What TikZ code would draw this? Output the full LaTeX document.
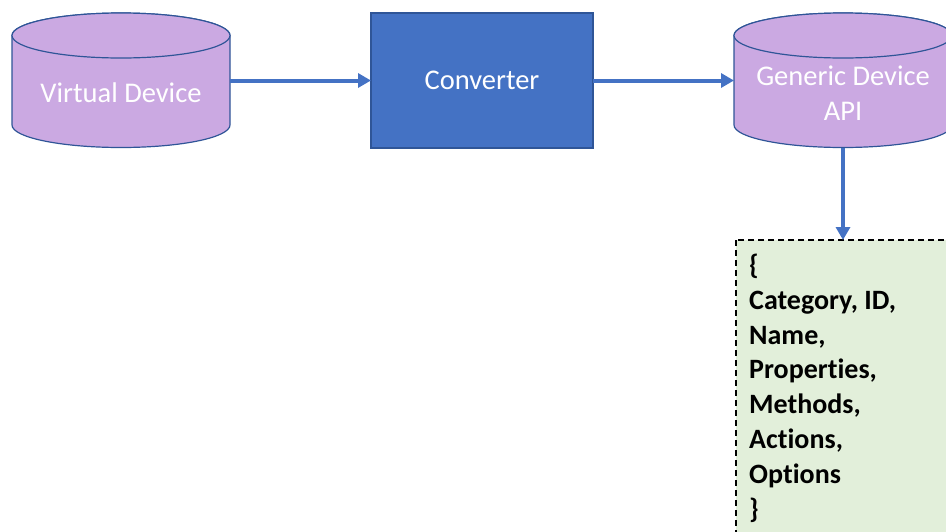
\documentclass[tikz,border=0pt]{standalone}
\usepackage{fontspec}
\setmainfont{Carlito}[Ligatures={NoCommon}]
\usetikzlibrary{arrows.meta}
\definecolor{cylfill}{RGB}{203,169,226}
\definecolor{edgeblue}{RGB}{47,85,151}
\definecolor{flowblue}{RGB}{68,114,196}
\definecolor{notegreen}{RGB}{226,239,218}
\tikzset{
  cylpart/.style={fill=cylfill, draw=edgeblue, line width=1.2pt},
  area/.style={inner sep=0pt, outer sep=0pt},
  lbl/.style={text=white, font=\fontsize{28.5}{35}\selectfont, align=center, inner sep=0pt},
  procbox/.style={draw=edgeblue, line width=1.2pt, fill=flowblue, text=white,
    font=\fontsize{28.5}{35}\selectfont, inner sep=0pt, outer sep=0pt},
  flow/.style={draw=flowblue, line width=4pt, -{Triangle[length=13pt,width=14pt]}},
  notebox/.style={draw=black, fill=notegreen, line width=1.3pt, dash pattern=on 6pt off 4pt},
  notetext/.style={font=\bfseries\fontsize{28}{34.8}\selectfont, align=left, inner sep=0pt}
}
% draws a vertical cylinder: left x, right x, top-ellipse centre y, bottom-ellipse centre y, ellipse y-radius
\newcommand{\drumshape}[5]{%
  \pgfmathsetmacro{\rxx}{(#2-#1)/2}%
  \pgfmathsetmacro{\cxx}{(#1+#2)/2}%
  \path[cylpart] (#1,#3) -- (#1,#4)
    arc[start angle=180, end angle=360, x radius=\rxx, y radius=#5]
    -- (#2,#3)
    arc[start angle=0, end angle=180, x radius=\rxx, y radius=#5] -- cycle;
  \path[cylpart] (\cxx,#3) ellipse[x radius=\rxx, y radius=#5];
}
\begin{document}
\begin{tikzpicture}[x=1pt, y=1pt]
\useasboundingbox (0,0) rectangle (946,-531);
\clip (0,0) rectangle (946,-531);

% storage shapes
\drumshape{12}{230}{-35.5}{-125}{22.5}
\drumshape{734}{952}{-35.5}{-125}{22.5}

% outline areas of the two cylinders
\node[area, minimum width=218pt, minimum height=134pt] (vd) at (121,-80.5) {};
\node[area, minimum width=218pt, minimum height=134pt] (gda) at (843,-80.5) {};

\node[lbl] (vdtext) at (121,-93) {Virtual Device};
\node[lbl] (gdatext) at (843,-93) {Generic Device\\API};

% conversion step
\node[procbox, minimum width=222pt, minimum height=135pt] (conv) at (482,-80.5) {Converter};

% description of the generic device
\path[notebox] (736,-240) rectangle (960,-545);
\node[area, minimum width=224pt, minimum height=305pt, anchor=north west] (note) at (736,-240) {};
\node[notetext, anchor=base west] (notetxt) at (749,-518)
  {\{\\Category, ID,\\Name,\\Properties,\\Methods,\\Actions,\\Options\\\}};

% connectors
\draw[flow] (vd.east) -- (conv.west);
\draw[flow] (conv.east) -- (gda.west);
\draw[flow] (gda.south) -- (note.north -| gda.south);
\end{tikzpicture}
\end{document}
